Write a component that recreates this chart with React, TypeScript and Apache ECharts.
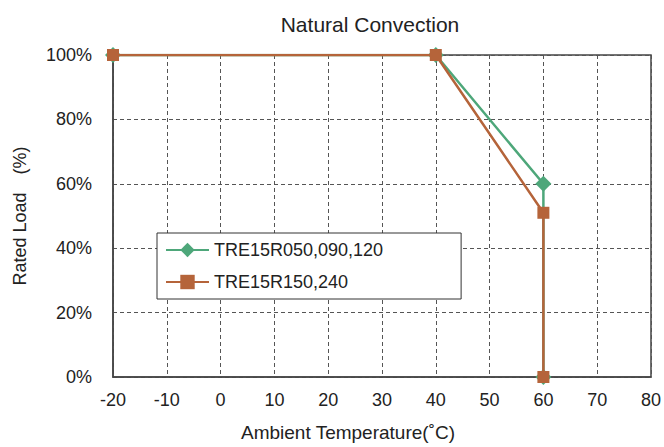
import React, { useEffect, useRef } from "react";
import * as echarts from "echarts";

const title = "Natural Convection";
const xName = "Ambient Temperature(˚C)";
const yName = "Rated Load\u3000(%)";
const seriesNames = ["TRE15R050,090,120", "TRE15R150,240"];
const tempA = [-20, 40, 60, 60];
const loadA = [100, 100, 60, 0];
const tempB = [-20, 40, 60, 60];
const loadB = [100, 100, 51, 0];
const colors = ["#4ea77a", "#b5643a"];

export default function App() {
  const ref = useRef<HTMLDivElement>(null);
  useEffect(() => {
    const chart = echarts.init(ref.current!, null, { renderer: "svg" });
    const font = "Liberation Sans, Arial, sans-serif";
    chart.setOption({
      animation: false,
      backgroundColor: "#fff",
      textStyle: { fontFamily: font },
      title: {
        text: title,
        left: 365,
        top: 9,
        textAlign: "center",
        textStyle: { fontFamily: font, fontSize: 21, fontWeight: "normal", color: "#222" },
      },
      grid: { left: 113, right: 7, top: 55, bottom: 70, show: true, borderColor: "#444", borderWidth: 1.5 },
      legend: {
        left: 157,
        top: 233,
        orient: "vertical",
        itemGap: 14,
        itemWidth: 43,
        itemHeight: 18,
        backgroundColor: "#fff",
        borderColor: "#333",
        borderWidth: 1,
        padding: [8, 78, 8, 8],
        textStyle: { fontFamily: font, fontSize: 18, color: "#222" },
        data: seriesNames,
      },
      xAxis: {
        type: "value",
        min: -20,
        max: 80,
        interval: 10,
        axisLine: { show: true, onZero: false, lineStyle: { color: "#444", width: 1.5 } },
        axisTick: { show: false },
        axisLabel: { fontSize: 18, color: "#222", margin: 14, fontFamily: font },
        splitLine: { show: true, lineStyle: { type: [4, 3], color: "#555", width: 1 } },
      },
      yAxis: {
        type: "value",
        min: 0,
        max: 100,
        interval: 20,
        name: yName,
        nameLocation: "middle",
        nameGap: 84,
        nameTextStyle: { fontSize: 18, color: "#222", fontFamily: font },
        axisLine: { show: true, onZero: false, lineStyle: { color: "#444", width: 1.5 } },
        axisTick: { show: false },
        axisLabel: { fontSize: 18, color: "#222", margin: 21, formatter: "{value}%", fontFamily: font },
        splitLine: { show: true, lineStyle: { type: [4, 3], color: "#555", width: 1 } },
      },
      graphic: [
        {
          type: "text",
          left: 241,
          top: 423,
          style: { text: xName, font: `19px ${font}`, fill: "#222" },
        },
      ],
      series: [
        {
          name: seriesNames[0],
          type: "line",
          data: tempA.map((t, i) => [t, loadA[i]]),
          color: colors[0],
          lineStyle: { width: 2.5 },
          symbol: "diamond",
          symbolSize: 16,
          showSymbol: true,
          itemStyle: { color: colors[0] },
          z: 2,
        },
        {
          name: seriesNames[1],
          type: "line",
          data: tempB.map((t, i) => [t, loadB[i]]),
          color: colors[1],
          lineStyle: { width: 2.5 },
          symbol: "rect",
          symbolSize: 12,
          itemStyle: { color: colors[1] },
          z: 3,
        },
      ],
    });
    return () => chart.dispose();
  }, []);
  return <div ref={ref} style={{ width: 664, height: 447, position: "absolute", left: 0, top: 0 }} />;
}
